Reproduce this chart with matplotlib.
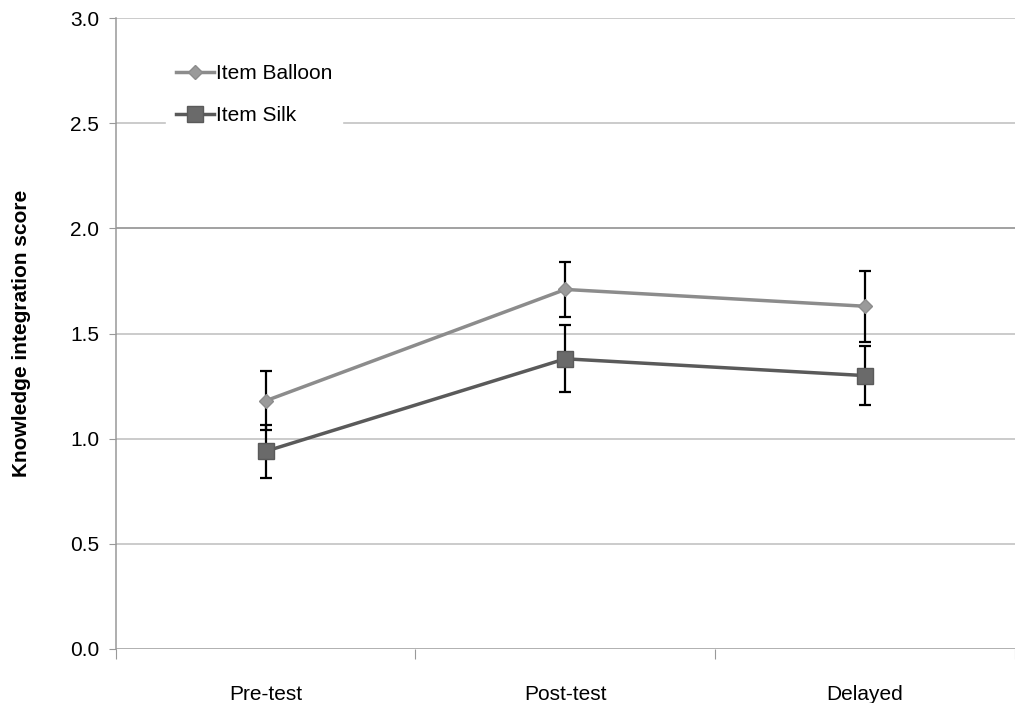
import matplotlib.pyplot as plt
import numpy as np

plt.rcParams['font.family'] = ['Liberation Sans', 'DejaVu Sans']

# data
phases = ['Pre-test', 'Post-test', 'Delayed']
balloon = [1.18, 1.71, 1.63]
balloon_err = [0.14, 0.13, 0.17]
silk = [0.94, 1.38, 1.30]
silk_err = [0.125, 0.16, 0.14]

fig = plt.figure(figsize=(10.15, 7.03), dpi=100)
ax = fig.add_axes([0.114, 0.077, 0.886, 0.897])

x = np.arange(len(phases))

# gridlines
for yv in [0.5, 1.0, 1.5, 2.0, 2.5, 3.0]:
    c = '#888888' if yv == 2.0 else '#bdbdbd'
    ax.axhline(yv, color=c, lw=1.1, zorder=0)
ax.axhline(0.0, color='#999999', lw=1.8, zorder=0)

ax.errorbar(x, balloon, yerr=balloon_err, fmt='none', ecolor='black',
            elinewidth=1.6, capsize=4, capthick=1.6, zorder=2)
ax.errorbar(x, silk, yerr=silk_err, fmt='none', ecolor='black',
            elinewidth=1.6, capsize=4, capthick=1.6, zorder=2)

ax.plot(x, balloon, color='#8c8c8c', lw=2.5, marker='D', ms=7,
        mfc='#9a9a9a', mec='#8c8c8c', label='Item Balloon', zorder=3)
ax.plot(x, silk, color='#5a5a5a', lw=2.5, marker='s', ms=11,
        mfc='#6a6a6a', mec='#5a5a5a', label='Item Silk', zorder=3)

ax.set_xlim(-0.5, 2.5)
ax.set_ylim(0, 3.0)
ax.set_yticks([0, 0.5, 1.0, 1.5, 2.0, 2.5, 3.0])
ax.set_yticklabels(['0.0', '0.5', '1.0', '1.5', '2.0', '2.5', '3.0'], fontsize=15)

# category labels centred, tick marks at the boundaries
ax.set_xticks([-0.5, 0.5, 1.5, 2.5])
ax.set_xticklabels([])
ax.set_xticks(x, minor=True)
ax.set_xticklabels(phases, minor=True, fontsize=15)
ax.tick_params(axis='x', which='minor', length=0, pad=26)
ax.tick_params(axis='x', which='major', length=7, color='#999999', direction='out')
ax.tick_params(axis='y', length=5, color='#999999', direction='out', pad=7)

for s in ['top', 'right', 'bottom']:
    ax.spines[s].set_visible(False)
ax.spines['left'].set_color('#999999')
ax.spines['left'].set_linewidth(1.1)

ax.set_ylabel('Knowledge integration score', fontsize=15, fontweight='bold', labelpad=28)

leg = ax.legend(loc='upper left', bbox_to_anchor=(0.044, 0.96), frameon=True,
                fontsize=15, handlelength=1.8, labelspacing=1.1, borderpad=0.5,
                handletextpad=0.1)
leg.get_frame().set_edgecolor('white')
leg.get_frame().set_facecolor('white')
leg.get_frame().set_alpha(1)

fig.savefig('out.png', dpi=100)
